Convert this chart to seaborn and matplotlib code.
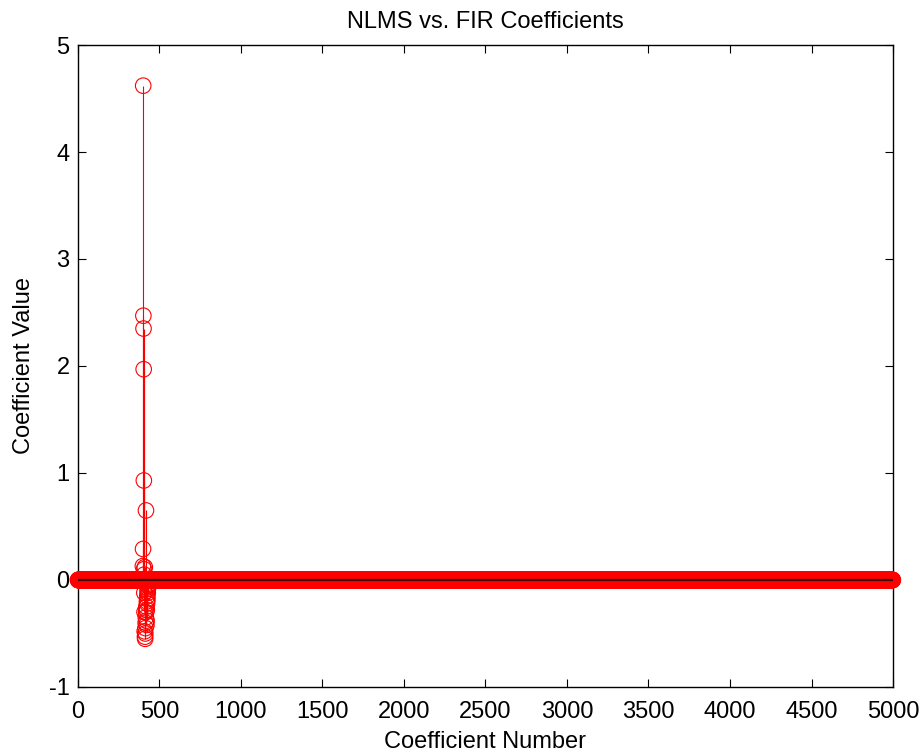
import numpy as np
import pandas as pd
import matplotlib
matplotlib.use("Agg")
import matplotlib.pyplot as plt
import seaborn as sns

# ---- data ----
n_coeffs = 5000
# NLMS coefficients that differ visibly from zero (index -> value)
spike_idx = [398, 399, 400, 401, 402, 403, 404, 405, 406, 407, 408, 409, 410,
             411, 412, 413, 414, 415, 416, 417, 418, 419, 420, 421, 422, 423,
             424, 425, 426, 427, 428, 429, 430, 432, 435, 438, 440]
spike_vals = [0.13, 0.29, 4.62, 2.47, 2.35, 1.97, 0.93, 0.10, 0.05, -0.12,
              -0.30, -0.48, 0.12, -0.53, -0.55, -0.50, -0.45, -0.40, -0.35,
              0.65, -0.30, -0.25, -0.42, -0.38, -0.28, -0.20, -0.22, -0.15,
              -0.18, -0.10, -0.12, -0.08, -0.06, -0.05, -0.05, -0.04, -0.03]
# FIR reference coefficients (flat at zero across the range)
fir_level = 0.0

x_ticks = [0, 500, 1000, 1500, 2000, 2500, 3000, 3500, 4000, 4500, 5000]
y_ticks = [-1, 0, 1, 2, 3, 4, 5]

idx = np.arange(n_coeffs)
nlms = np.zeros(n_coeffs)
nlms[spike_idx] = spike_vals
fir = np.full(n_coeffs, fir_level)
df = pd.DataFrame({"n": idx, "nlms": nlms, "fir": fir})

sns.set_theme(style="white")
plt.rcParams["font.family"] = ["Liberation Sans", "DejaVu Sans"]
plt.rcParams["text.color"] = "black"
plt.rcParams["axes.labelcolor"] = "black"

fig = plt.figure(figsize=(9.23, 7.54), dpi=100)
ax = fig.add_axes([0.0845, 0.0889, 0.883, 0.8514])

# stems
ax.vlines(df["n"], 0, df["nlms"], color="red", linewidth=0.8, zorder=2)
# circle markers
sns.scatterplot(data=df, x="n", y="nlms", ax=ax, marker="o", s=125,
                facecolors="none", edgecolor="red", linewidth=0.8,
                zorder=3, clip_on=False, legend=False)
# FIR line
sns.lineplot(data=df, x="n", y="fir", ax=ax, color="#3a0000",
             linewidth=1.6, zorder=4, legend=False)

ax.set_xlim(0, 5000)
ax.set_ylim(-1, 5)
ax.set_xticks(x_ticks)
ax.set_yticks(y_ticks)
ax.set_xticklabels([str(t) for t in x_ticks], fontsize=17)
ax.set_yticklabels([str(t) for t in y_ticks], fontsize=17)
ax.tick_params(direction="in", length=6, width=0.8, top=True, right=True,
               bottom=True, left=True, colors="black")
ax.tick_params(axis="x", pad=10)
ax.tick_params(axis="y", pad=6)
for s in ax.spines.values():
    s.set_visible(True)
    s.set_color("black")
    s.set_linewidth(1.0)

ax.set_title("NLMS vs. FIR Coefficients", fontsize=17, pad=12, color="black")
ax.set_xlabel("Coefficient Number", fontsize=17, labelpad=6)
ax.set_ylabel("Coefficient Value", fontsize=17, labelpad=10)
ax.grid(False)

fig.savefig("out.png", dpi=100, facecolor="white")
